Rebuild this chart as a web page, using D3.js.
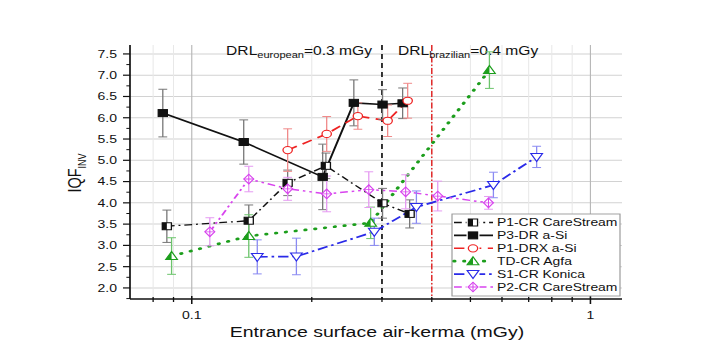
<!DOCTYPE html>
<html lang="en">
<head>
<meta charset="UTF-8">
<title>IQF vs entrance surface air-kerma</title>
<script src="https://d3js.org/d3.v7.min.js"></script>
<style>
    body { margin: 0; background: #fff; }
    svg text { font-family: "Liberation Sans", Arial, sans-serif; fill: #111; }
    .tick-label { font-size: 10.8px; }
</style>
</head>
<body>
<svg width="723" height="347"></svg>
<script>
    // values
    const p1crX = [0.0866, 0.139, 0.174, 0.217, 0.301, 0.352];
    const p1crY = [3.45, 3.58, 4.47, 4.87, 3.99, 3.74];
    const p1crErr = [0.38, 0.37, 0.3, 0.3, 0.35, 0.33];

    const p3drX = [0.0846, 0.135, 0.213, 0.255, 0.301, 0.338];
    const p3drY = [6.11, 5.43, 4.61, 6.35, 6.31, 6.34];
    const p3drErr = [0.56, 0.52, 0.77, 0.54, 0.35, 0.36];

    const p1drxX = [0.174, 0.218, 0.261, 0.31, 0.348];
    const p1drxY = [5.24, 5.62, 6.04, 5.93, 6.40];
    const p1drxErr = [0.5, 0.41, 0.31, 0.37, 0.41];

    const tdcrX = [0.089, 0.139, 0.281, 0.558];
    const tdcrY = [2.75, 3.22, 3.53, 7.12];
    const tdcrErr = [0.43, 0.5, 0.37, 0.43];

    const s1crX = [0.146, 0.183, 0.287, 0.366, 0.571, 0.733];
    const s1crY = [2.73, 2.74, 3.32, 3.9, 4.42, 5.08];
    const s1crErr = [0.4, 0.43, 0.32, 0.38, 0.3, 0.25];

    const p2crX = [0.111, 0.139, 0.174, 0.218, 0.278, 0.344, 0.414, 0.555];
    const p2crY = [3.32, 4.56, 4.33, 4.21, 4.31, 4.26, 4.16, 4.0];
    const p2crErr = [0.33, 0.3, 0.27, 0.42, 0.42, 0.4, 0.35, 0.15];

    const seriesNames = ["P1-CR CareStream", "P3-DR a-Si", "P1-DRX a-Si",
        "TD-CR Agfa", "S1-CR Konica", "P2-CR CareStream"];
    const yTicks = [2.0, 2.5, 3.0, 3.5, 4.0, 4.5, 5.0, 5.5, 6.0, 6.5, 7.0, 7.5];
    const xTicks = [0.1, 1];
    const xMinor = [0.08, 0.09, 0.2, 0.3, 0.4, 0.5, 0.6, 0.7, 0.8, 0.9];
    const drlValues = [0.3, 0.4];

    const series = [
        {name: seriesNames[0], x: p1crX, y: p1crY, err: p1crErr, color: "#111", errColor: "#777",
            dash: "6,3,1.5,3", width: 1.3, marker: "sqHalf"},
        {name: seriesNames[1], x: p3drX, y: p3drY, err: p3drErr, color: "#111", errColor: "#777",
            dash: null, width: 1.6, marker: "sq"},
        {name: seriesNames[2], x: p1drxX, y: p1drxY, err: p1drxErr, color: "#ee2222", errColor: "#f08a8a",
            dash: "8,5", width: 1.6, marker: "circle"},
        {name: seriesNames[3], x: tdcrX, y: tdcrY, err: tdcrErr, color: "#1c9e1c", errColor: "#6cc46c",
            dash: "0.6,7", width: 2.7, marker: "triHalf"},
        {name: seriesNames[4], x: s1crX, y: s1crY, err: s1crErr, color: "#2a2ae8", errColor: "#8a8af2",
            dash: "8,3,2,3", width: 1.7, marker: "triDown"},
        {name: seriesNames[5], x: p2crX, y: p2crY, err: p2crErr, color: "#d844ee", errColor: "#e59af2",
            dash: "6,3,2,3,2,3", width: 1.5, marker: "diamond"}
    ];

    // the picture is stretched sideways, so draw in narrower units and scale
    const sx = 1.3;
    const svg = d3.select("svg");
    const root = svg.append("g").attr("transform", "scale(" + sx + ",1)");

    const x = d3.scaleLog().domain([0.07, 1.2]).range([130 / sx, 622 / sx]);
    const y = d3.scaleLinear().domain([1.74, 7.71]).range([299, 45]);
    const [x0, x1] = x.range();

    // grid
    const grid = root.append("g");
    grid.selectAll(".hg").data(yTicks).enter().append("line")
        .attr("x1", x0).attr("x2", x1)
        .attr("y1", d => y(d)).attr("y2", d => y(d))
        .attr("stroke", "#d2d2d2").attr("stroke-width", 1);
    grid.selectAll(".vmin").data(xMinor).enter().append("line")
        .attr("x1", d => x(d)).attr("x2", d => x(d))
        .attr("y1", 45).attr("y2", 299)
        .attr("stroke", "#e8e8e8").attr("stroke-width", 0.8);
    grid.selectAll(".vmaj").data(xTicks).enter().append("line")
        .attr("x1", d => x(d)).attr("x2", d => x(d))
        .attr("y1", 45).attr("y2", 299)
        .attr("stroke", "#b8b8b8").attr("stroke-width", 0.9);

    // DRL lines
    root.append("line")
        .attr("x1", x(drlValues[0])).attr("x2", x(drlValues[0]))
        .attr("y1", 45).attr("y2", 299)
        .attr("stroke", "#222").attr("stroke-width", 1.4).attr("stroke-dasharray", "5,4");
    root.append("line")
        .attr("x1", x(drlValues[1])).attr("x2", x(drlValues[1]))
        .attr("y1", 45).attr("y2", 299)
        .attr("stroke", "#e02020").attr("stroke-width", 1.1).attr("stroke-dasharray", "6,2,1.5,2");

    const t1 = root.append("text")
        .attr("x", x(drlValues[0]) - 10 / sx).attr("y", 55)
        .attr("text-anchor", "end").style("font-size", "12px");
    t1.append("tspan").text("DRL");
    t1.append("tspan").text("european").attr("dy", 3).style("font-size", "8.5px");
    t1.append("tspan").text("=0.3 mGy").attr("dy", -3);

    const t2 = root.append("text")
        .attr("x", x(drlValues[0]) + 16 / sx).attr("y", 55)
        .style("font-size", "12px");
    t2.append("tspan").text("DRL");
    t2.append("tspan").text("brazilian").attr("dy", 3).style("font-size", "8.5px");
    t2.append("tspan").text("=0.4 mGy").attr("dy", -3);

    // series lines
    const line = d3.line().x(d => x(d[0])).y(d => y(d[1]));
    series.forEach(s => {
        const pts = s.x.map((v, i) => [v, s.y[i]]);
        root.append("path")
            .attr("d", line(pts))
            .attr("fill", "none")
            .attr("stroke", s.color)
            .attr("stroke-width", s.width)
            .attr("stroke-linecap", s.marker === "triHalf" ? "round" : "butt")
            .attr("stroke-dasharray", s.dash);
    });

    // error bars
    series.forEach(s => {
        const g = root.append("g").attr("stroke", s.errColor).attr("stroke-width", 1).attr("fill", "none");
        s.x.forEach((v, i) => {
            const cx = x(v), top = y(s.y[i] + s.err[i]), bot = y(s.y[i] - s.err[i]);
            g.append("line").attr("x1", cx).attr("x2", cx).attr("y1", top).attr("y2", bot);
            g.append("line").attr("x1", cx - 3.4).attr("x2", cx + 3.4).attr("y1", top).attr("y2", top);
            g.append("line").attr("x1", cx - 3.4).attr("x2", cx + 3.4).attr("y1", bot).attr("y2", bot);
        });
    });

    function drawMarker(g, type, color) {
        if (type === "sqHalf") {
            g.append("rect").attr("x", -3.5).attr("y", -3.5).attr("width", 7).attr("height", 7)
                .attr("fill", "#fff").attr("stroke", color).attr("stroke-width", 1);
            g.append("rect").attr("x", -3.5).attr("y", -3.5).attr("width", 3.5).attr("height", 7)
                .attr("fill", color);
        } else if (type === "sq") {
            g.append("rect").attr("x", -3.5).attr("y", -3.5).attr("width", 7).attr("height", 7)
                .attr("fill", color).attr("stroke", color).attr("stroke-width", 1);
        } else if (type === "circle") {
            g.append("circle").attr("r", 3.6)
                .attr("fill", "#fff").attr("stroke", color).attr("stroke-width", 1);
        } else if (type === "triHalf") {
            g.append("path").attr("d", "M0,-4.5L4.5,3.5L-4.5,3.5Z")
                .attr("fill", "#fff").attr("stroke", color).attr("stroke-width", 1);
            g.append("path").attr("d", "M0,-4.5L0,3.5L-4.5,3.5Z").attr("fill", color);
        } else if (type === "triDown") {
            g.append("path").attr("d", "M0,4.5L4.5,-3.5L-4.5,-3.5Z")
                .attr("fill", "#fff").attr("stroke", color).attr("stroke-width", 1);
        } else if (type === "diamond") {
            g.append("path").attr("d", "M0,-4.8L3.8,0L0,4.8L-3.8,0Z")
                .attr("fill", "#fff").attr("stroke", color).attr("stroke-width", 1);
            g.append("path").attr("d", "M0,-4.8V4.8M-3.8,0H3.8")
                .attr("stroke", color).attr("stroke-width", 0.8);
        }
    }

    series.forEach(s => {
        s.x.forEach((v, i) => {
            const g = root.append("g").attr("transform", "translate(" + x(v) + "," + y(s.y[i]) + ")");
            drawMarker(g, s.marker, s.color);
        });
    });

    // axes
    const yMinor = d3.range(1.75, 7.7, 0.25).filter(v => Math.abs(v * 2 - Math.round(v * 2)) > 0.01);
    root.append("line").attr("x1", x0).attr("x2", x0).attr("y1", 45).attr("y2", 299)
        .attr("stroke", "#111").attr("stroke-width", 1.3);
    root.append("line").attr("x1", x0).attr("x2", x1).attr("y1", 299).attr("y2", 299)
        .attr("stroke", "#111").attr("stroke-width", 1.3);
    root.selectAll(".ytk").data(yTicks).enter().append("line")
        .attr("x1", x0 - 5.4).attr("x2", x0).attr("y1", d => y(d)).attr("y2", d => y(d))
        .attr("stroke", "#111").attr("stroke-width", 1.2);
    root.selectAll(".ymn").data(yMinor).enter().append("line")
        .attr("x1", x0 - 2.8).attr("x2", x0).attr("y1", d => y(d)).attr("y2", d => y(d))
        .attr("stroke", "#111").attr("stroke-width", 1);
    root.selectAll(".ylb").data(yTicks).enter().append("text")
        .attr("class", "tick-label")
        .attr("x", x0 - 10).attr("y", d => y(d) + 3.9)
        .attr("text-anchor", "end")
        .text(d3.format(".1f"));

    root.selectAll(".xtk").data(xTicks).enter().append("line")
        .attr("x1", d => x(d)).attr("x2", d => x(d)).attr("y1", 296).attr("y2", 304)
        .attr("stroke", "#111").attr("stroke-width", 1.2);
    root.selectAll(".xmn").data(xMinor).enter().append("line")
        .attr("x1", d => x(d)).attr("x2", d => x(d)).attr("y1", 297).attr("y2", 302)
        .attr("stroke", "#111").attr("stroke-width", 1);
    root.selectAll(".xlb").data(xTicks).enter().append("text")
        .attr("class", "tick-label")
        .attr("x", d => x(d)).attr("y", 319)
        .attr("text-anchor", "middle")
        .text(d => String(d));

    root.append("text")
        .attr("x", 377 / sx).attr("y", 337)
        .attr("text-anchor", "middle").style("font-size", "15px")
        .text("Entrance surface air-kerma (mGy)");

    const yl = root.append("text")
        .attr("transform", "translate(" + (81 / sx) + ",173) rotate(-90)")
        .attr("text-anchor", "middle").style("font-size", "14.5px");
    yl.append("tspan").text("IQF");
    yl.append("tspan").text("INV").attr("dy", 3.5).style("font-size", "9px");

    // legend
    const lg = root.append("g").attr("transform", "translate(" + (452 / sx) + ",214)");
    lg.append("rect").attr("width", 168 / sx).attr("height", 82)
        .attr("fill", "#fff").attr("stroke", "#999").attr("stroke-width", 0.9);
    series.forEach((s, i) => {
        const cy = 8.5 + i * 12.9;
        lg.append("line").attr("x1", 2 / sx).attr("x2", 41 / sx).attr("y1", cy).attr("y2", cy)
            .attr("stroke", s.color).attr("stroke-width", s.width)
            .attr("stroke-linecap", s.marker === "triHalf" ? "round" : "butt")
            .attr("stroke-dasharray", s.dash);
        const mg = lg.append("g").attr("transform", "translate(" + (21 / sx) + "," + cy + ")");
        mg.append("rect").attr("x", -5).attr("y", -5).attr("width", 10).attr("height", 10).attr("fill", "#fff");
        drawMarker(mg, s.marker, s.color);
        lg.append("text").attr("x", 45 / sx).attr("y", cy + 3.7)
            .style("font-size", "10.7px").text(s.name);
    });
</script>
</body>
</html>
